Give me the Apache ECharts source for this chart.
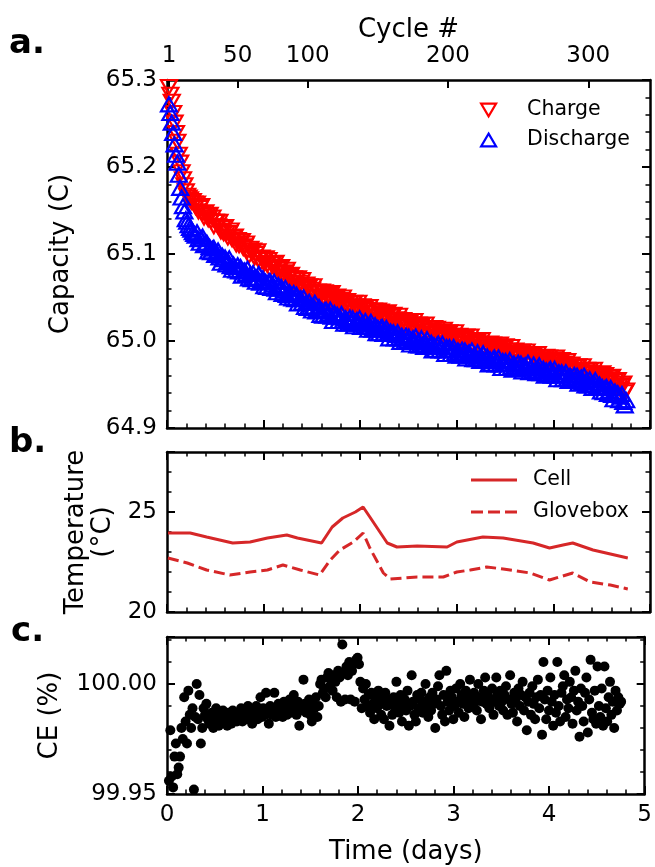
<!DOCTYPE html>
<html><head><meta charset="utf-8">
<script src="https://cdn.jsdelivr.net/npm/echarts@6.0.0/dist/echarts.min.js"></script>
<style>html,body{margin:0;padding:0;background:#fff}#c{width:655px;height:867px}</style>
</head><body><div id="c"></div><script>
// ---------- data ----------
const cycleTickLabels = [1, 50, 100, 200, 300];
const timeTickLabels = [0, 1, 2, 3, 4, 5];

// capacity per cycle (cycle number = index + 1)
const chargeCap = [
65.292,65.283,65.275,65.262,65.251,65.239,65.229,65.214,65.205,65.194,
65.186,65.179,65.172,65.167,65.165,65.163,65.160,65.161,65.158,65.154,
65.158,65.149,65.153,65.155,65.147,65.142,65.148,65.144,65.140,65.145,
65.138,65.142,65.132,65.137,65.137,65.132,65.137,65.126,65.130,65.124,
65.131,65.124,65.119,65.124,65.127,65.117,65.119,65.120,65.111,65.116,
65.110,65.114,65.115,65.107,65.109,65.112,65.104,65.098,65.106,65.102,
65.104,65.096,65.100,65.103,65.094,65.090,65.096,65.093,65.089,65.095,
65.088,65.093,65.083,65.088,65.089,65.084,65.090,65.079,65.084,65.078,
65.085,65.078,65.074,65.079,65.082,65.072,65.074,65.076,65.067,65.072,
65.066,65.071,65.072,65.064,65.067,65.070,65.062,65.057,65.065,65.061,
65.063,65.055,65.059,65.063,65.055,65.051,65.057,65.055,65.051,65.057,
65.050,65.056,65.046,65.051,65.053,65.048,65.055,65.044,65.049,65.044,
65.051,65.045,65.041,65.047,65.050,65.041,65.043,65.046,65.037,65.043,
65.037,65.043,65.044,65.037,65.040,65.044,65.036,65.032,65.040,65.037,
65.039,65.032,65.036,65.039,65.032,65.028,65.035,65.032,65.028,65.035,
65.028,65.034,65.024,65.030,65.031,65.027,65.033,65.023,65.028,65.023,
65.030,65.023,65.020,65.025,65.029,65.019,65.022,65.024,65.016,65.021,
65.016,65.021,65.023,65.015,65.019,65.023,65.015,65.011,65.019,65.016,
65.018,65.011,65.015,65.019,65.011,65.008,65.014,65.012,65.008,65.015,
65.008,65.014,65.004,65.010,65.011,65.007,65.013,65.003,65.008,65.003,
65.010,65.004,65.001,65.006,65.010,65.001,65.003,65.006,64.997,65.003,
64.997,65.003,65.005,64.997,65.001,65.005,64.997,64.993,65.001,64.998,
65.000,64.993,64.997,65.001,64.993,64.990,64.996,64.994,64.990,64.997,
64.991,64.996,64.987,64.992,64.994,64.990,64.996,64.986,64.991,64.986,
64.994,64.987,64.984,64.989,64.993,64.984,64.986,64.989,64.980,64.986,
64.981,64.986,64.988,64.981,64.984,64.988,64.981,64.976,64.985,64.982,
64.984,64.977,64.981,64.985,64.978,64.974,64.981,64.979,64.975,64.982,
64.976,64.981,64.972,64.977,64.979,64.975,64.981,64.971,64.976,64.971,
64.978,64.972,64.968,64.974,64.977,64.968,64.970,64.973,64.964,64.970,
64.964,64.970,64.971,64.964,64.967,64.971,64.963,64.959,64.967,64.964,
64.966,64.959,64.963,64.967,64.959,64.956,64.962,64.960,64.956,64.963,
64.956,64.961,64.951,64.956,64.958,64.953,64.959,64.948,64.954,64.948,
64.955,64.948,64.944,64.949,64.951,64.941,64.943
];
const dischargeCap = [
65.272,65.262,65.251,65.239,65.226,65.214,65.205,65.191,65.176,65.165,
65.155,65.149,65.140,65.137,65.133,65.130,65.128,65.125,65.123,65.121,
65.125,65.117,65.113,65.118,65.120,65.110,65.111,65.113,65.103,65.108,
65.102,65.106,65.107,65.099,65.101,65.104,65.096,65.090,65.098,65.094,
65.096,65.088,65.092,65.095,65.086,65.082,65.088,65.085,65.081,65.087,
65.080,65.085,65.075,65.080,65.081,65.077,65.083,65.072,65.077,65.071,
65.078,65.072,65.068,65.073,65.077,65.067,65.069,65.072,65.063,65.068,
65.062,65.068,65.069,65.061,65.065,65.068,65.060,65.056,65.064,65.060,
65.062,65.054,65.058,65.061,65.053,65.050,65.056,65.053,65.049,65.055,
65.048,65.053,65.043,65.048,65.049,65.044,65.050,65.039,65.044,65.038,
65.045,65.039,65.035,65.040,65.044,65.034,65.036,65.039,65.030,65.035,
65.029,65.035,65.036,65.029,65.032,65.036,65.028,65.023,65.032,65.028,
65.030,65.023,65.027,65.031,65.023,65.020,65.026,65.024,65.020,65.027,
65.021,65.026,65.017,65.022,65.024,65.020,65.026,65.016,65.021,65.016,
65.023,65.017,65.013,65.019,65.022,65.013,65.015,65.018,65.009,65.015,
65.009,65.015,65.016,65.008,65.012,65.015,65.008,65.003,65.011,65.008,
65.010,65.003,65.007,65.010,65.003,64.999,65.006,65.003,64.999,65.006,
65.000,65.005,64.996,65.001,65.003,64.999,65.005,64.995,65.000,64.995,
65.003,64.996,64.993,64.998,65.002,64.993,64.995,64.998,64.989,64.995,
64.990,64.995,64.997,64.989,64.993,64.997,64.989,64.985,64.993,64.990,
64.993,64.985,64.990,64.993,64.986,64.983,64.989,64.987,64.983,64.990,
64.984,64.989,64.980,64.985,64.987,64.983,64.989,64.979,64.984,64.979,
64.987,64.980,64.977,64.982,64.986,64.977,64.979,64.982,64.973,64.979,
64.974,64.979,64.981,64.973,64.977,64.981,64.973,64.969,64.977,64.974,
64.977,64.969,64.974,64.978,64.970,64.967,64.974,64.971,64.968,64.975,
64.969,64.974,64.965,64.971,64.972,64.968,64.975,64.964,64.970,64.965,
64.973,64.966,64.963,64.969,64.972,64.963,64.966,64.968,64.960,64.966,
64.961,64.966,64.968,64.960,64.964,64.968,64.960,64.956,64.964,64.961,
64.964,64.956,64.961,64.964,64.957,64.954,64.960,64.958,64.954,64.961,
64.955,64.960,64.951,64.956,64.958,64.953,64.960,64.949,64.955,64.949,
64.956,64.950,64.946,64.952,64.955,64.946,64.948,64.950,64.942,64.947,
64.941,64.946,64.947,64.939,64.943,64.946,64.938,64.933,64.942,64.938,
64.940,64.932,64.936,64.939,64.930,64.926,64.932
];
// coulombic efficiency per cycle (%)
const ceValues = [
99.956,99.979,99.958,99.953,99.967,99.973,99.959,99.962,99.967,99.980,
99.975,99.994,99.983,99.973,99.997,99.986,99.980,99.989,99.952,99.985,
100.000,99.984,99.995,99.973,99.980,99.989,99.986,99.991,99.984,99.982,
99.982,99.987,99.980,99.985,99.989,99.983,99.981,99.986,99.984,99.988,
99.983,99.986,99.981,99.987,99.985,99.982,99.988,99.984,99.986,99.983,
99.987,99.985,99.989,99.983,99.986,99.988,99.984,99.990,99.985,99.987,
99.982,99.988,99.986,99.990,99.984,99.987,99.994,99.985,99.989,99.986,
99.996,99.988,99.982,99.990,99.986,99.989,99.996,99.985,99.988,99.991,
99.987,99.990,99.985,99.992,99.988,99.986,99.990,99.993,99.987,99.991,
99.995,99.989,99.986,99.992,99.981,99.990,99.988,100.002,99.991,99.987,
99.990,99.993,99.986,99.983,99.991,99.989,99.994,99.985,99.990,100.000,
100.002,99.996,99.998,99.994,100.003,100.005,99.999,100.002,99.997,100.004,
100.001,99.994,100.006,100.003,99.992,100.018,100.005,99.993,100.008,100.004,
100.010,99.993,100.006,100.009,99.992,100.011,100.012,100.009,100.001,99.989,
99.998,99.993,100.000,99.990,99.995,99.987,99.996,99.991,99.984,99.993,
99.989,99.997,99.993,99.986,99.991,99.984,99.996,99.990,99.993,99.981,
99.991,99.986,99.994,99.989,100.001,99.992,99.987,99.995,99.983,99.990,
99.993,99.988,99.997,99.981,99.990,100.004,99.992,99.986,99.983,99.995,
99.989,99.993,99.996,99.987,99.992,100.000,99.990,99.985,99.994,99.988,
99.996,99.991,99.980,99.993,99.999,100.004,99.990,99.986,99.995,99.983,
100.006,99.992,99.988,99.997,99.994,99.984,99.990,99.998,99.992,99.987,
100.000,99.995,99.991,99.985,99.997,99.993,99.989,100.002,99.994,99.990,
99.996,99.992,99.988,100.000,99.994,99.984,99.992,99.997,100.003,99.991,
99.995,99.989,99.993,99.998,99.986,99.992,100.003,99.995,99.990,99.997,
99.992,99.988,99.995,99.999,99.986,99.993,100.004,99.991,99.987,99.996,
99.993,99.983,99.998,99.990,99.995,100.001,99.988,99.994,99.979,99.992,
99.996,99.986,99.999,99.991,99.984,99.994,100.002,99.989,99.995,99.977,
100.010,99.993,99.984,99.997,99.988,100.003,99.992,99.981,99.995,99.987,
100.010,99.990,99.983,99.996,99.999,100.004,99.985,99.993,99.989,100.001,
99.994,99.982,99.997,100.006,99.988,99.992,99.976,99.998,99.990,99.983,
99.996,100.003,99.978,99.993,100.011,99.987,99.984,99.997,99.982,100.008,
99.990,99.985,99.998,99.981,100.008,99.989,99.983,99.994,100.001,99.986,
99.992,99.980,99.997,99.988,99.994,99.991,99.992
];
// temperatures vs time (days)
const cellTime = [0.01,0.24,0.41,0.68,0.86,1.04,1.24,1.35,1.60,1.71,1.82,1.95,2.03,2.10,2.28,2.38,2.59,2.90,3.00,3.27,3.48,3.79,3.96,4.10,4.20,4.41,4.59,4.77];
const cellTemp = [23.95,23.95,23.75,23.45,23.50,23.70,23.85,23.70,23.45,24.25,24.70,25.00,25.25,24.75,23.45,23.25,23.30,23.25,23.50,23.75,23.70,23.45,23.20,23.35,23.45,23.10,22.90,22.70];
const gloveTime = [0.01,0.21,0.41,0.65,0.86,1.04,1.20,1.38,1.58,1.69,1.79,1.93,2.03,2.10,2.24,2.31,2.59,2.86,3.00,3.14,3.31,3.48,3.76,3.96,4.20,4.38,4.59,4.77];
const gloveTemp = [22.70,22.45,22.10,21.85,22.00,22.10,22.35,22.10,21.85,22.60,23.10,23.50,23.95,23.20,21.95,21.65,21.75,21.75,22.00,22.10,22.25,22.15,21.95,21.60,21.95,21.50,21.35,21.15];

// ---------- chart ----------
const FONT = 'DejaVu Sans';
const BLACK = '#000';
function axis(o) {
  const a = {
    type: 'value', gridIndex: o.grid, position: o.pos, min: o.min, max: o.max,
    show: o.show !== false,
    axisLine: {show: true, onZero: false, lineStyle: {color: BLACK, width: 2.5}},
    axisTick: {show: true, inside: true, length: 8, lineStyle: {color: BLACK, width: 2}},
    minorTick: {show: o.minor !== false, splitNumber: 5, length: 4.5, lineStyle: {color: BLACK, width: 1.5}},
    axisLabel: {show: !!o.labels, color: BLACK, fontSize: 23, fontFamily: FONT, margin: o.margin || 10},
    splitLine: {show: false}, minorSplitLine: {show: false},
    nameTextStyle: {color: BLACK, fontSize: 26, fontFamily: FONT, lineHeight: 27}
  };
  if (o.interval !== undefined) a.interval = o.interval;
  if (o.fmt) a.axisLabel.formatter = o.fmt;
  if (o.custom) { a.axisTick.customValues = o.custom; a.axisLabel.customValues = o.custom; }
  if (o.name) { a.name = o.name; a.nameLocation = 'middle'; a.nameGap = o.nameGap; }
  return a;
}
const CYC_MIN = -0.4, CYC_MAX = 344;
const xAxes = [
  axis({grid: 0, pos: 'bottom', min: 0, max: 5, interval: 1}),
  axis({grid: 0, pos: 'top', min: CYC_MIN, max: CYC_MAX, minor: false, labels: true, custom: cycleTickLabels, margin: 12, name: 'Cycle #', nameGap: 36}),
  axis({grid: 1, pos: 'bottom', min: 0, max: 5, interval: 1}),
  axis({grid: 1, pos: 'top', min: 0, max: 5, interval: 1}),
  axis({grid: 2, pos: 'bottom', min: 0, max: 5, interval: 1, labels: true, fmt: v => timeTickLabels.indexOf(v) >= 0 ? String(v) : '', name: 'Time (days)', nameGap: 45}),
  axis({grid: 2, pos: 'top', min: 0, max: 5, interval: 1}),
  axis({grid: 2, pos: 'top', min: CYC_MIN, max: CYC_MAX, show: false})
];
const yAxes = [
  axis({grid: 0, pos: 'left', min: 64.9, max: 65.3, interval: 0.1, labels: true, fmt: v => v.toFixed(1), name: 'Capacity (C)', nameGap: 92}),
  axis({grid: 0, pos: 'right', min: 64.9, max: 65.3, interval: 0.1}),
  axis({grid: 1, pos: 'left', min: 20, max: 28, interval: 5, labels: true, fmt: v => (v % 5 === 0 ? String(v) : ''), name: 'Temperature\n(°C)', nameGap: 50}),
  axis({grid: 1, pos: 'right', min: 20, max: 28, interval: 5}),
  axis({grid: 2, pos: 'left', min: 99.95, max: 100.0214, interval: 0.05, labels: true, fmt: v => (Math.abs(v * 20 - Math.round(v * 20)) < 1e-6 ? v.toFixed(2) : ''), name: 'CE (%)', nameGap: 103}),
  axis({grid: 2, pos: 'right', min: 99.95, max: 100.0214, interval: 0.05})
];

const downTri = 'path://M0,0L14,0L7,12Z';
const upTri = 'path://M7,0L14,12L0,12Z';
const solidIcon = 'path://M0,0L46,0L46,3L0,3Z';
const dashIcon = 'path://M0,0L12,0L12,3L0,3Z M17,0L29,0L29,3L17,3Z M34,0L46,0L46,3L34,3Z';
const option = {
  animation: false,
  backgroundColor: '#fff',
  textStyle: {fontFamily: FONT, color: BLACK},
  grid: [
    {left: 167, right: 5, top: 80, height: 348},
    {left: 167, right: 5, top: 452, height: 160},
    {left: 167, right: 5, top: 637, height: 160}
  ],
  xAxis: xAxes,
  yAxis: yAxes,
  legend: [
    {
      orient: 'vertical', left: 480, top: 99, padding: 0, itemWidth: 15, itemHeight: 13, itemGap: 8,
      textStyle: {fontSize: 20.5, color: BLACK, fontFamily: FONT, lineHeight: 22, padding: [0, 0, 0, 26]},
      data: [
        {name: 'Charge', icon: downTri, itemStyle: {color: 'rgba(0,0,0,0)', borderColor: '#ff0000', borderWidth: 2.2}},
        {name: 'Discharge', icon: upTri, itemStyle: {color: 'rgba(0,0,0,0)', borderColor: '#0000ff', borderWidth: 2.2}}
      ]
    },
    {
      orient: 'vertical', left: 471, top: 469, padding: 0, itemWidth: 46, itemHeight: 3, itemGap: 10,
      textStyle: {fontSize: 20.5, color: BLACK, fontFamily: FONT, lineHeight: 22, padding: [0, 0, 0, 11]},
      data: [
        {name: 'Cell', icon: solidIcon, itemStyle: {color: '#d62728'}},
        {name: 'Glovebox', icon: dashIcon, itemStyle: {color: '#d62728'}}
      ]
    }
  ],
  graphic: [
    {type: 'text', left: 9, top: 27, style: {text: 'a.', font: 'bold 34px "DejaVu Sans"', fill: BLACK}},
    {type: 'text', left: 9, top: 426, style: {text: 'b.', font: 'bold 34px "DejaVu Sans"', fill: BLACK}},
    {type: 'text', left: 11, top: 615, style: {text: 'c.', font: 'bold 34px "DejaVu Sans"', fill: BLACK}}
  ],
  series: [
    {
      name: 'Charge', type: 'scatter', xAxisIndex: 1, yAxisIndex: 0,
      symbol: downTri, symbolSize: [16, 14],
      itemStyle: {color: 'rgba(0,0,0,0)', borderColor: '#ff0000', borderWidth: 2.2, opacity: 1},
      emphasis: {disabled: true},
      data: chargeCap.map((v, i) => [i + 1, v])
    },
    {
      name: 'Discharge', type: 'scatter', xAxisIndex: 1, yAxisIndex: 0,
      symbol: upTri, symbolSize: [16, 14],
      itemStyle: {color: 'rgba(0,0,0,0)', borderColor: '#0000ff', borderWidth: 2.2, opacity: 1},
      emphasis: {disabled: true},
      data: dischargeCap.map((v, i) => [i + 1, v])
    },
    {
      name: 'Cell', type: 'line', xAxisIndex: 2, yAxisIndex: 2, symbol: 'none',
      lineStyle: {color: '#d62728', width: 3}, itemStyle: {color: '#d62728'},
      data: cellTime.map((t, i) => [t, cellTemp[i]])
    },
    {
      name: 'Glovebox', type: 'line', xAxisIndex: 2, yAxisIndex: 2, symbol: 'none',
      lineStyle: {color: '#d62728', width: 3, type: [11, 5]}, itemStyle: {color: '#d62728'},
      data: gloveTime.map((t, i) => [t, gloveTemp[i]])
    },
    {
      name: 'CE', type: 'scatter', xAxisIndex: 6, yAxisIndex: 4,
      symbol: 'circle', symbolSize: 10,
      itemStyle: {color: BLACK, opacity: 1},
      emphasis: {disabled: true},
      data: ceValues.map((v, i) => [i + 1, v])
    }
  ]
};
const chart = echarts.init(document.getElementById('c'), null, {renderer: 'canvas'});
chart.setOption(option);
</script></body></html>
